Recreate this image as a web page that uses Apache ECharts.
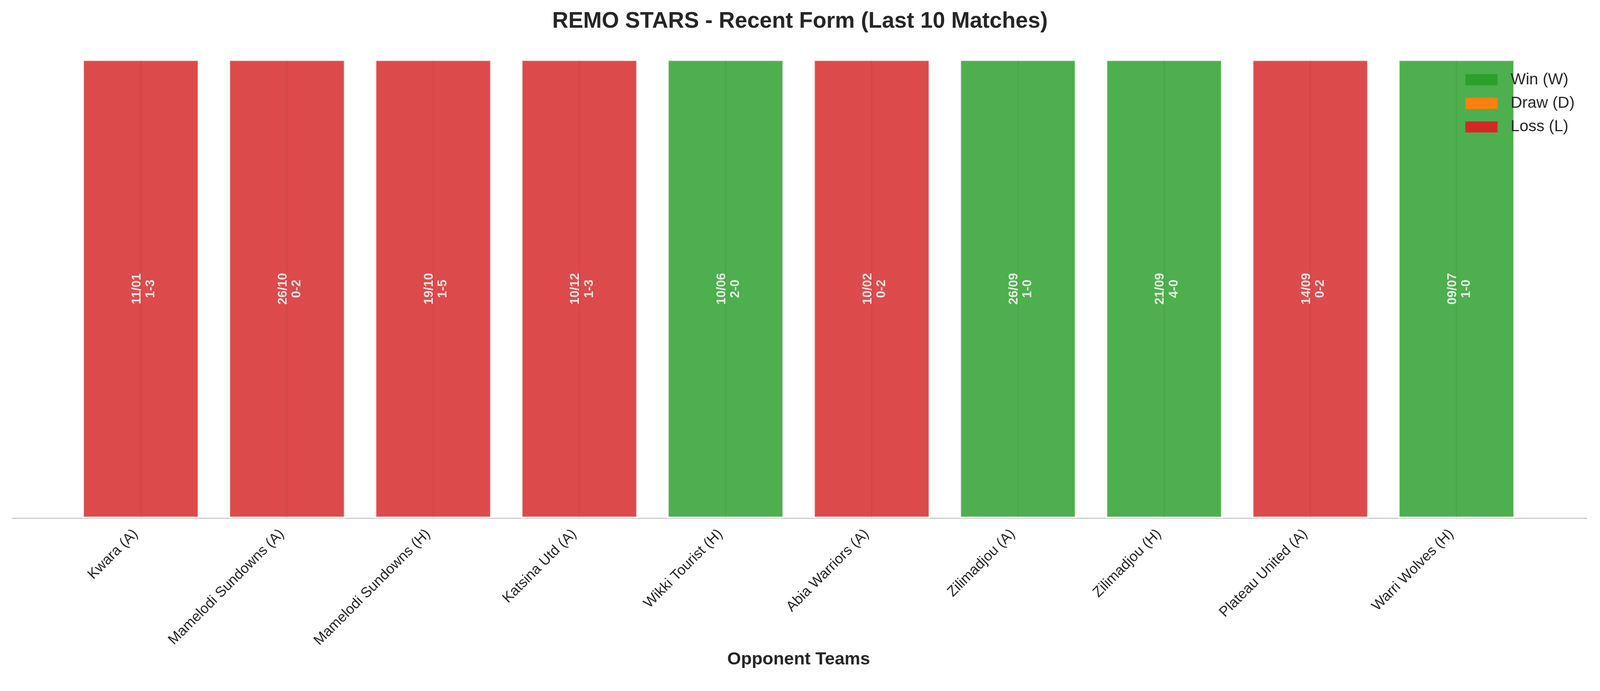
<!DOCTYPE html>
<html>
<head>
<meta charset="utf-8">
<script src="https://cdn.jsdelivr.net/npm/echarts@6/dist/echarts.min.js"></script>
<style>
html,body{margin:0;padding:0;background:#fff;overflow:hidden;}
#chart{position:absolute;left:0;top:0;}
</style>
</head>
<body>
<div id="chart"></div>
<script>
// ---- data ----
const opponents = ['Kwara (A)', 'Mamelodi Sundowns (A)', 'Mamelodi Sundowns (H)', 'Katsina Utd (A)', 'Wikki Tourist (H)', 'Abia Warriors (A)', 'Zilimadjou (A)', 'Zilimadjou (H)', 'Plateau United (A)', 'Warri Wolves (H)'];
const dates = ['11/01', '26/10', '19/10', '10/12', '10/06', '10/02', '26/09', '21/09', '14/09', '09/07'];
const scores = ['1-3', '0-2', '1-5', '1-3', '2-0', '0-2', '1-0', '4-0', '0-2', '1-0'];
const results = ['L', 'L', 'L', 'L', 'W', 'L', 'W', 'W', 'L', 'W'];
const barValue = [1, 1, 1, 1, 1, 1, 1, 1, 1, 1];
const resultNames = { W: 'Win (W)', D: 'Draw (D)', L: 'Loss (L)' };
const resultColors = { W: '#2ca02c', D: '#ff7f0e', L: '#d62728' };

const FONT = '"Liberation Sans", Arial, sans-serif';

// design is in 4170x1770 units, scaled to the real viewport
const W = window.innerWidth || 4170;
const H = window.innerHeight || 1770;
const s = Math.min(W / 4170, H / 1770);
const px = v => v * s;

const el = document.getElementById('chart');
el.style.width = (4170 * s) + 'px';
el.style.height = (1770 * s) + 'px';

function seriesFor(code) {
  return {
    name: resultNames[code],
    type: 'bar',
    stack: 'form',
    xAxisIndex: 0,
    yAxisIndex: 0,
    barWidth: '80%',
    itemStyle: {
      color: resultColors[code],
      opacity: 0.84,
      borderColor: '#ffffff',
      borderWidth: px(4.3)
    },
    label: {
      show: true,
      position: 'inside',
      rotate: 90,
      offset: [0, px(8)],
      color: '#ffffff',
      fontFamily: FONT,
      fontWeight: 'bold',
      fontSize: px(33),
      lineHeight: px(36),
      align: 'center',
      verticalAlign: 'middle',
      formatter: p => dates[p.dataIndex] + '\n' + scores[p.dataIndex]
    },
    data: results.map((r, i) => r === code ? barValue[i] : '-')
  };
}

const series = ['W', 'D', 'L'].map(seriesFor);
series[0].markLine = {
  silent: true,
  symbol: 'none',
  label: { show: false },
  lineStyle: { color: 'rgba(0,0,0,0.05)', width: px(3), type: 'solid' },
  data: opponents.map((o, i) => [{ coord: [i, 0] }, { coord: [i, barValue[i]] }])
};

const chart = echarts.init(el, null, { renderer: 'canvas' });
chart.setOption({
  backgroundColor: '#ffffff',
  animation: false,
  title: {
    text: 'REMO STARS - Recent Form (Last 10 Matches)',
    left: 'center',
    top: px(22),
    textStyle: { fontFamily: FONT, fontWeight: 'bold', fontSize: px(58), color: '#262626' }
  },
  legend: {
    orient: 'vertical',
    left: px(3814),
    top: px(182),
    padding: px(5),
    icon: 'rect',
    itemWidth: px(84),
    itemHeight: px(29),
    itemGap: px(19.5),
    data: ['Win (W)', 'Draw (D)', 'Loss (L)'],
    itemStyle: { borderWidth: 0, opacity: 1 },
    textStyle: { fontFamily: FONT, fontSize: px(41.7), lineHeight: px(42), color: '#262626', padding: [0, 0, 0, px(29)] }
  },
  grid: [
    { left: px(176.5), right: px(183.5), top: px(95), bottom: px(419) },
    { left: px(32), right: px(35), top: px(95), bottom: px(419) }
  ],
  xAxis: [
    {
      type: 'category',
      gridIndex: 0,
      data: opponents,
      boundaryGap: true,
      axisLine: { show: false },
      axisTick: { show: false },
      splitLine: { show: false },
      axisLabel: {
        rotate: 45,
        margin: px(22),
        padding: [0, px(19), 0, 0],
        fontFamily: FONT,
        fontSize: px(37.5),
        color: '#262626',
        interval: 0
      },
      name: 'Opponent Teams',
      nameLocation: 'middle',
      nameGap: px(329),
      nameTextStyle: { fontFamily: FONT, fontWeight: 'bold', fontSize: px(46), color: '#262626' }
    },
    {
      type: 'value',
      gridIndex: 1,
      min: 0,
      max: 1,
      axisLine: { show: true, lineStyle: { color: '#cccccc', width: px(3) } },
      axisTick: { show: false },
      axisLabel: { show: false },
      splitLine: { show: false }
    }
  ],
  yAxis: [
    { type: 'value', gridIndex: 0, min: 0, max: 1.05, show: false, splitLine: { show: false } },
    { type: 'value', gridIndex: 1, min: 0, max: 1, show: false, splitLine: { show: false } }
  ],
  series: series
});
</script>
</body>
</html>
